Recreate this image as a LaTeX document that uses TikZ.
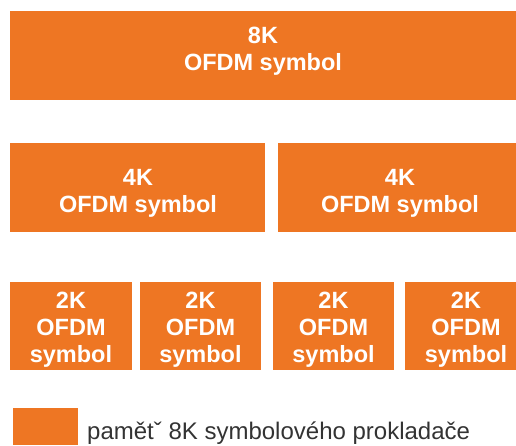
\documentclass[tikz,border=0pt]{standalone}
\usepackage{fontspec}
\setmainfont{Liberation Sans}
\definecolor{boxorange}{RGB}{238,118,35}
\definecolor{legendgray}{RGB}{51,51,51}
\tikzset{
  blockfill/.style={fill=boxorange},
  blocktext/.style={text=white, font=\fontsize{23.5}{27}\selectfont\bfseries, align=center, anchor=north, inner sep=0pt},
  legendtext/.style={text=legendgray, font=\fontsize{24}{28}\selectfont, anchor=base west, inner sep=0pt}
}
\begin{document}
\begin{tikzpicture}[x=1pt,y=-1pt]
\useasboundingbox (0,0) rectangle (516,445);
% top row
\fill[blockfill] (10,11) rectangle (516,100);
\node[blocktext] (t8k) at (263,27) {8K\\OFDM symbol};
% middle row
\fill[blockfill] (10,143) rectangle (265,232);
\fill[blockfill] (278,143) rectangle (516,232);
\node[blocktext] (t4ka) at (138,169) {4K\\OFDM symbol};
\node[blocktext] (t4kb) at (400,169) {4K\\OFDM symbol};
% bottom row
\fill[blockfill] (10,282) rectangle (132,370);
\fill[blockfill] (140,282) rectangle (261,370);
\fill[blockfill] (273,282) rectangle (394,370);
\fill[blockfill] (405,282) rectangle (516,370);
\node[blocktext] (t2ka) at (71,291.5) {2K\\OFDM\\symbol};
\node[blocktext] (t2kb) at (200.5,291.5) {2K\\OFDM\\symbol};
\node[blocktext] (t2kc) at (333.5,291.5) {2K\\OFDM\\symbol};
\node[blocktext] (t2kd) at (466,291.5) {2K\\OFDM\\symbol};
% legend
\fill[blockfill] (13,408) rectangle (78,445);
\node[legendtext] (leg) at (87,439) {pamětˇ 8K symbolového prokladače};
\end{tikzpicture}
\end{document}
